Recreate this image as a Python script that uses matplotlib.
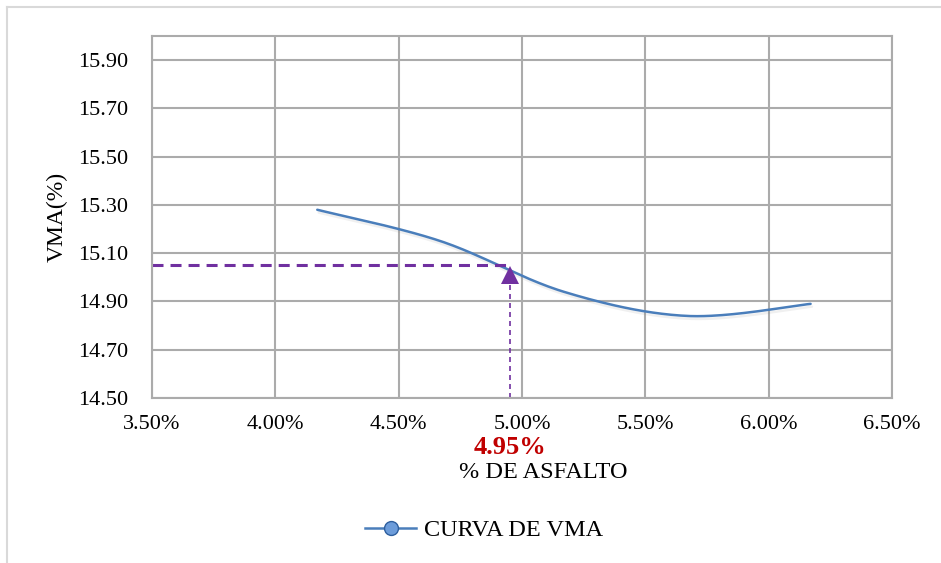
import matplotlib
matplotlib.use('Agg')
import matplotlib.pyplot as plt
import matplotlib.patheffects as pe
import matplotlib.transforms as mtransforms
from matplotlib.lines import Line2D
import numpy as np

plt.rcParams['font.family'] = ['Liberation Serif', 'DejaVu Serif']

# asphalt content (%) and VMA (%)
asfalto = [4.17, 4.67, 5.17, 5.67, 6.17]
vma = [15.28, 15.15, 14.94, 14.84, 14.89]
opt_asfalto = 4.95
opt_vma = 15.05

x_ticks = [3.5, 4.0, 4.5, 5.0, 5.5, 6.0, 6.5]
y_ticks = [14.5, 14.7, 14.9, 15.1, 15.3, 15.5, 15.7, 15.9]


def smooth(xs, ys, n=40):
    # cubic bezier through the points, like a spreadsheet "smoothed line"
    p = np.column_stack([xs, ys])
    p = np.vstack([p[0], p, p[-1]])
    out = []
    for i in range(1, len(p) - 2):
        p0, p1, p2, p3 = p[i - 1], p[i], p[i + 1], p[i + 2]
        c1 = p1 + (p2 - p0) / 6
        c2 = p2 - (p3 - p1) / 6
        t = np.linspace(0, 1, n)[:, None]
        seg = ((1 - t) ** 3) * p1 + 3 * ((1 - t) ** 2) * t * c1 + 3 * (1 - t) * t ** 2 * c2 + t ** 3 * p2
        out.append(seg if i == 1 else seg[1:])
    out = np.vstack(out)
    return out[:, 0], out[:, 1]


fig = plt.figure(figsize=(9.41, 5.63), dpi=100)
ax = fig.add_axes([152 / 941, 1 - 398 / 563, 740 / 941, 362 / 563])

grid_c = '#ABABAB'
ax.set_xlim(3.5, 6.5)
ax.set_ylim(14.5, 16.0)
ax.set_xticks(x_ticks)
ax.set_yticks(y_ticks)
ax.set_xticklabels(['%.2f%%' % v for v in x_ticks])
ax.set_yticklabels(['%.2f' % v for v in y_ticks])
ax.tick_params(length=0, labelsize=16)
ax.tick_params(axis='y', pad=17)
ax.tick_params(axis='x', pad=12)
ax.grid(True, color=grid_c, lw=1.5)
ax.set_axisbelow(True)
for s in ax.spines.values():
    s.set_color(grid_c)
    s.set_linewidth(1.5)

# curve
sx, sy = smooth(asfalto, vma)
ax.plot(sx, sy, color='#4A7EBB', lw=1.8, solid_capstyle='round',
        path_effects=[pe.SimpleLineShadow(offset=(1, -2), shadow_color='#888888', alpha=0.12),
                      pe.Normal()])

# optimum asphalt content
purple = '#7030A0'
ax.plot([3.5, opt_asfalto], [opt_vma, opt_vma], color=purple, lw=2.2, dashes=(3.6, 2.3))
ax.plot([opt_asfalto, opt_asfalto], [14.5, opt_vma - 0.04], color=purple, lw=1.2, dashes=(3, 2.4))
head_tr = mtransforms.offset_copy(ax.transData, fig=fig, x=0, y=-10, units='dots')
ax.plot([opt_asfalto], [opt_vma], marker='^', markersize=13, color=purple, markeredgewidth=0,
        transform=head_tr)
ax.text(opt_asfalto, -(448 - 398) / 362, '%.2f%%' % opt_asfalto, transform=ax.get_xaxis_transform(),
        ha='center', va='center', color='#C00000', fontsize=19, fontweight='bold')

ax.set_xlabel('% DE ASFALTO', fontsize=17.5)
ax.xaxis.set_label_coords((543 - 152) / 740, -(473 - 398) / 362)
ax.xaxis.label.set_va('center')
ax.set_ylabel('VMA(%)', fontsize=17)
ax.yaxis.set_label_coords(-(152 - 57) / 740, 0.5)
ax.yaxis.label.set_va('center')

handle = Line2D([], [], color='#4A7EBB', lw=1.8, marker='o', markersize=10,
                markerfacecolor='#6C9CDA', markeredgecolor='#2E5F9E', markeredgewidth=1)
fig.legend([handle], ['CURVA DE VMA'], loc='center', bbox_to_anchor=(484 / 941, 1 - 530 / 563),
           frameon=False, fontsize=17.5, handlelength=2.1, handletextpad=0.3)

# outer chart border
bc = '#D9D9D9'
fig.add_artist(Line2D([7 / 941, 1], [1 - 7 / 563, 1 - 7 / 563], color=bc, lw=1.5))
fig.add_artist(Line2D([7 / 941, 7 / 941], [0, 1 - 7 / 563], color=bc, lw=1.5))

fig.savefig('out.png', dpi=100)
